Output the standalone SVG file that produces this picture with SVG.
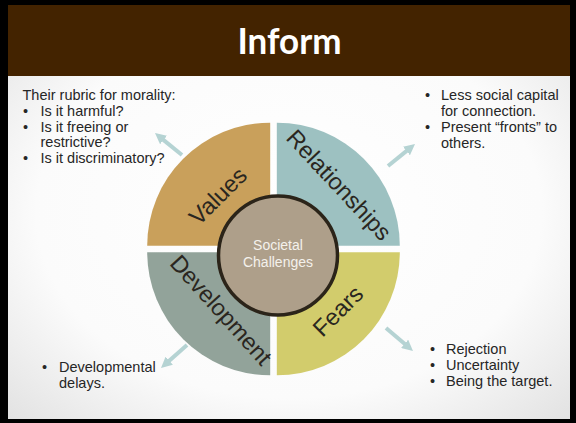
<svg xmlns="http://www.w3.org/2000/svg" width="576" height="423" viewBox="0 0 576 423">
<style>
.t{font-family:"Liberation Sans",Arial,sans-serif;font-size:14.5px;fill:#262626}
.q{font-family:"Liberation Sans",Arial,sans-serif;font-size:23.5px;fill:#2a2620}
.c{font-family:"Liberation Sans",Arial,sans-serif;font-size:14px;fill:#f4f1ec}
.arr{stroke:#b5d3d3;stroke-width:4;fill:none}
</style>
<defs>
<radialGradient id="bg" cx="50%" cy="50%" r="75%">
<stop offset="0" stop-color="#ffffff"/>
<stop offset="0.6" stop-color="#fbfbfb"/>
<stop offset="1" stop-color="#dedede"/>
</radialGradient>
<marker id="ah" markerUnits="userSpaceOnUse" markerWidth="11" markerHeight="11" refX="3" refY="5.5" orient="auto">
<path d="M0,0 L11,5.5 L0,11 Z" fill="#b5d3d3"/>
</marker>
</defs>
<rect x="0" y="0" width="576" height="423" fill="#000"/>
<rect x="8" y="5" width="562" height="414" fill="url(#bg)"/>
<g id="header">
<rect x="8" y="5" width="562" height="71" fill="#432300"/>
<text x="289.5" y="54" text-anchor="middle" font-family="Lato,'Liberation Sans',sans-serif" font-weight="bold" font-size="37" fill="#ffffff" textLength="104" lengthAdjust="spacingAndGlyphs">Inform</text>
</g>
<g id="connectors">
<line class="arr" x1="182" y1="155" x2="161.2" y2="138.1" marker-end="url(#ah)"/>
<line class="arr" x1="388" y1="166" x2="408.8" y2="149.1" marker-end="url(#ah)"/>
<line class="arr" x1="386" y1="328" x2="406.9" y2="345.8" marker-end="url(#ah)"/>
<line class="arr" x1="187" y1="345" x2="167" y2="362.7" marker-end="url(#ah)"/>
</g>
<g id="values">
<path d="M270.2,245.7 L147.2,245.7 A123,123 0 0 1 270.2,122.7 Z" fill="#c9a05b"/>
<text class="q" x="0" y="0" text-anchor="middle" transform="translate(218,196) rotate(-45)" dy="8">Values</text>
</g>
<g id="relationships">
<path d="M276.8,245.7 L276.8,122.7 A123,123 0 0 1 399.8,245.7 Z" fill="#9dc1c1"/>
<text class="q" x="0" y="0" text-anchor="middle" transform="translate(339,185) rotate(47)" dy="8">Relationships</text>
</g>
<g id="fears">
<path d="M276.8,252.3 L399.8,252.3 A123,123 0 0 1 276.8,375.3 Z" fill="#d2cc6c"/>
<text class="q" x="0" y="0" text-anchor="middle" transform="translate(338,311) rotate(-45)" dy="8">Fears</text>
</g>
<g id="development">
<path d="M270.2,252.3 L270.2,375.3 A123,123 0 0 1 147.2,252.3 Z" fill="#92a39a"/>
<text class="q" x="0" y="0" text-anchor="middle" transform="translate(221,310) rotate(48)" dy="8">Development</text>
</g>
<g id="center">
<circle cx="278" cy="255.5" r="59.5" fill="#ae9f8a" stroke="#2b2419" stroke-width="3.5"/>
<text class="c" x="278" y="250" text-anchor="middle">Societal</text>
<text class="c" x="278" y="266.5" text-anchor="middle">Challenges</text>
</g>
<g id="values-notes">
<text class="t" x="22.5" y="99.5">Their rubric for morality:</text>
<text class="t" x="23" y="115.5">•</text><text class="t" x="40.5" y="115.5">Is it harmful?</text>
<text class="t" x="23" y="131.5">•</text><text class="t" x="40.5" y="131.5">Is it freeing or</text>
<text class="t" x="40.5" y="147">restrictive?</text>
<text class="t" x="23" y="163">•</text><text class="t" x="40.5" y="163">Is it discriminatory?</text>
</g>
<g id="relationships-notes">
<text class="t" x="425" y="100">•</text><text class="t" x="441" y="100">Less social capital</text>
<text class="t" x="441" y="116">for connection.</text>
<text class="t" x="425" y="132">•</text><text class="t" x="441" y="132">Present “fronts” to</text>
<text class="t" x="441" y="148">others.</text>
</g>
<g id="fears-notes">
<text class="t" x="430" y="354">•</text><text class="t" x="446" y="354">Rejection</text>
<text class="t" x="430" y="370">•</text><text class="t" x="446" y="370">Uncertainty</text>
<text class="t" x="430" y="386">•</text><text class="t" x="446" y="386">Being the target.</text>
</g>
<g id="development-notes">
<text class="t" x="42" y="372">•</text><text class="t" x="59" y="372">Developmental</text>
<text class="t" x="59" y="388">delays.</text>
</g>
</svg>
